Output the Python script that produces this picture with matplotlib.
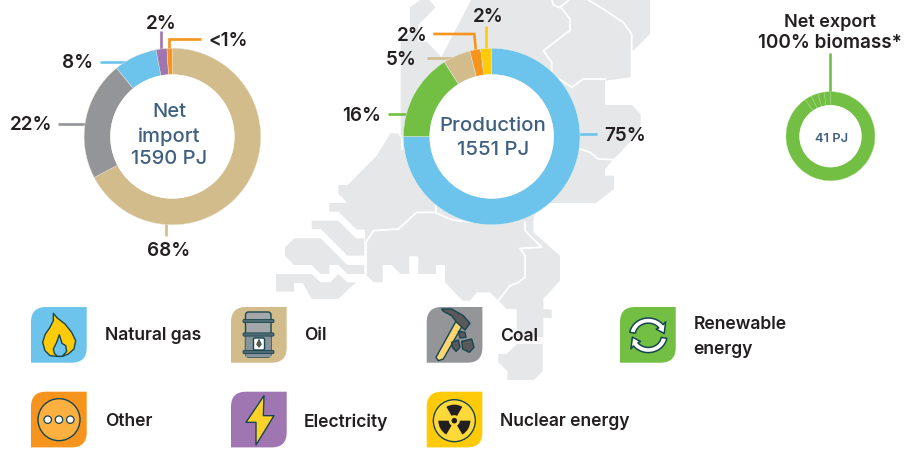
import matplotlib
matplotlib.use("Agg")
import matplotlib.pyplot as plt
import numpy as np
from matplotlib.patches import Circle, FancyBboxPatch, PathPatch, Polygon, Wedge
from matplotlib.path import Path

# values
import_labels = ['Oil', 'Coal', 'Natural gas', 'Electricity', 'Other']
import_values = [68, 22, 8, 2, 1]
prod_labels = ['Natural gas', 'Renewable', 'Oil', 'Other', 'Nuclear']
prod_values = [75, 16, 5, 2, 2]
export_values = [90.4, 2.5, 2.5, 2.3, 2.3]

GAS = '#6CC4EC'
OIL = '#D2BC8C'
COAL = '#939598'
REN = '#72BF44'
OTHER = '#F7941D'
ELEC = '#A076B2'
NUC = '#FFCB08'
MAP = '#E6E7E8'
DARK = '#231F20'
BLUE = '#3F5F80'
LINE = '#17454F'

plt.rcParams['font.family'] = ['Inter', 'DejaVu Sans']
W, H = 906, 452

fig = plt.figure(figsize=(9.06, 4.52), dpi=100)
ax = fig.add_axes([0, 0, 1, 1])
ax.set_xlim(0, W)
ax.set_ylim(H, 0)
ax.axis('off')


def crop(ox, oy, pts):
    return [(ox + x / 3, oy + y / 3) for x, y in pts]


def z2(pts):
    return crop(270, 0, pts)


def z3(pts):
    return crop(0, 295, pts)


def z4(pts):
    return crop(410, 295, pts)


def z7(pts):
    return crop(270, 130, pts)


def z9(pts):
    return crop(360, 220, pts)


# map of the Netherlands behind the charts
north = crop(380, 0, [(90, 25), (125, 0), (145, 0), (167, 25), (115, 78), (115, 128), (140, 128),
                      (195, 185), (130, 300), (70, 400), (62, 400), (62, 128), (90, 100)])
main = (z2([(605, 0), (1140, 0), (1140, 105), (1090, 155), (1082, 155), (1082, 235), (1005, 245),
            (1005, 318), (1085, 318), (1112, 345), (1112, 395), (1030, 482), (1005, 510),
            (1005, 530), (1032, 530), (1032, 570), (978, 612), (800, 612), (790, 665),
            (790, 700), (870, 770)])
        + z9([(600, 185), (550, 240), (550, 270), (575, 272), (575, 297), (550, 297), (550, 354),
              (470, 354), (470, 270), (440, 270), (415, 245), (390, 220), (350, 220), (330, 245),
              (308, 245), (255, 190), (255, 138), (228, 138), (228, 165), (175, 165), (175, 112),
              (148, 112), (148, 165), (122, 165), (95, 138), (68, 138), (68, 190), (42, 190),
              (15, 165)])
        + z7([(288, 435), (285, 302), (260, 302), (205, 248), (178, 248), (178, 222), (232, 222),
              (205, 195), (205, 168), (233, 168), (320, 80), (362, 12), (395, 12)]))
band1 = z7([(125, 275), (205, 275), (258, 328), (283, 328), (283, 380), (232, 380), (152, 300),
            (125, 300)])
band2 = z7([(72, 328), (152, 328), (232, 408), (283, 408), (283, 435), (232, 435), (205, 408),
            (178, 408), (178, 435), (152, 435), (125, 408), (72, 408), (45, 380), (45, 355)])
band3 = z7([(18, 435), (125, 435), (152, 460), (180, 460), (205, 435), (232, 460), (258, 460),
            (205, 510), (125, 510), (98, 462), (72, 462), (72, 488), (18, 488)])
limburg = z4([(265, 180), (290, 180), (320, 150), (398, 150), (398, 232), (372, 258), (292, 258),
              (292, 232), (265, 205)])
for part in [north, main, band1, band2, band3, limburg]:
    ax.add_patch(Polygon(part, closed=True, fc=MAP, ec='none', zorder=1))

borders = [
    z2([(845, 0), (850, 18), (875, 28), (900, 60), (900, 95), (885, 105), (860, 125), (820, 155),
        (845, 190), (845, 225)]),
    z2([(870, 25), (900, 0)]),
    z2([(950, 0), (1000, 30), (1060, 70), (1085, 105), (1085, 155)]),
    z2([(860, 235), (905, 265), (940, 240), (1005, 240)]),
    z2([(930, 450), (960, 460), (985, 480), (1030, 482)]),
    z7([(288, 435), (288, 340), (310, 305), (385, 300), (440, 250), (495, 250), (540, 270),
        (560, 275), (620, 280)]),
    z7([(497, 200), (497, 250)]),
    z9([(495, 10), (495, 35), (545, 85), (480, 88), (495, 110), (495, 175), (475, 190), (450, 200),
        (415, 245)]),
    z2([(365, 400), (385, 400), (395, 415), (397, 450)]),
]
for b in borders:
    xs, ys = zip(*b)
    ax.plot(xs, ys, color='white', lw=1.3, solid_joinstyle='round', zorder=2)


def donut(cx, cy, r, r_in, values, colors, edge):
    pad = 1.01
    a = fig.add_axes([(cx - r * pad) / W, 1 - (cy + r * pad) / H, 2 * r * pad / W, 2 * r * pad / H])
    a.pie(values, colors=colors, startangle=90, counterclock=False, radius=1,
          wedgeprops=dict(width=1 - r_in / r, edgecolor=edge, linewidth=0.3))
    a.add_patch(Circle((0, 0), r_in / r, fc='white', ec='none'))
    a.set_xlim(-pad, pad)
    a.set_ylim(-pad, pad)
    a.patch.set_alpha(0)
    return a


donut(172.4, 137.5, 88.3, 62, import_values, [OIL, COAL, GAS, ELEC, OTHER], '#EEE6D5')
donut(491.7, 137.5, 88.3, 62, prod_values, [GAS, REN, OIL, OTHER, NUC], '#E8F2EC')
donut(830.5, 137.2, 44.5, 31, export_values, [REN] * 5, '#A9D98E')


def leader(pts, color):
    xs, ys = zip(*pts)
    ax.plot(xs, ys, color=color, lw=1.9, solid_joinstyle='miter', solid_capstyle='butt', zorder=3)


leader([(161, 31.5), (161, 52)], ELEC)
leader([(201, 39.7), (169, 39.7), (169, 52)], OTHER)
leader([(100, 63.3), (128, 63.3)], GAS)
leader([(58, 125), (86, 125)], COAL)
leader([(166, 224), (166, 237)], OIL)
leader([(485.7, 26.7), (485.7, 52)], NUC)
leader([(433.3, 35), (474.3, 35), (476, 53)], OTHER)
leader([(426.7, 59.3), (455, 59.3)], OIL)
leader([(388.3, 115), (408, 115)], REN)
leader([(578, 135), (596.7, 135)], GAS)
leader([(830.3, 54.3), (830.3, 95)], REN)


def label(x, y, s, size=13.6, color=DARK, ha='center', weight='semibold'):
    # va center sits a bit high for this font
    fig.text(x / W, 1 - (y + 1.5) / H, s, fontsize=size, color=color, ha=ha, va='center',
             weight=weight, zorder=10)


label(161, 22.5, '2%')
label(228, 39.5, '<1%')
label(78, 62, '8%')
label(31, 123.5, '22%')
label(169, 250, '68%')
label(488.3, 16, '2%')
label(412.3, 34.3, '2%')
label(400.7, 58.3, '5%')
label(361.7, 114.3, '16%')
label(625, 134.3, '75%')
label(830, 20.7, 'Net export', size=13)
label(830, 41.7, '100% biomass*', size=13.6)

label(169, 110.7, 'Net', size=14.5, color=BLUE, weight='medium')
label(169, 135, 'import', size=14.5, color=BLUE, weight='medium')
label(169, 158, '1590 PJ', size=14.5, color=BLUE, weight='medium')
label(493.3, 124.3, 'Production', size=14.7, color=BLUE, weight='medium')
label(493.3, 148.3, '1551 PJ', size=14.7, color=BLUE, weight='medium')
label(831.7, 137.3, '41 PJ', size=9.3, color=BLUE)

label(105, 334, 'Natural gas', ha='left', size=12.6)
label(304, 334, 'Oil', ha='left', size=12.6)
label(500, 335, 'Coal', ha='left', size=12.6)
label(693.5, 323.3, 'Renewable', ha='left', size=12.6)
label(693.5, 347.7, 'energy', ha='left', size=12.6)
label(105, 420, 'Other', ha='left', size=12.6)
label(304, 421, 'Electricity', ha='left', size=12.6)
label(500, 420, 'Nuclear energy', ha='left', size=12.6)


def tile(x, y, color, s=55.7, c=15):
    # top left and bottom right corners are round
    verts = [(x + c, y), (x + s, y), (x + s, y + s - c), (x + s, y + s), (x + s - c, y + s),
             (x, y + s), (x, y + c), (x, y), (x + c, y)]
    codes = [Path.MOVETO, Path.LINETO, Path.LINETO, Path.CURVE3, Path.CURVE3,
             Path.LINETO, Path.LINETO, Path.CURVE3, Path.CURVE3]
    ax.add_patch(PathPatch(Path(verts, codes), fc=color, ec='none', zorder=4))


def shape(pts, color, lw=1.0):
    ax.add_patch(Polygon(pts, closed=True, fc=color, ec=LINE, lw=lw, joinstyle='round', zorder=5))


tile(31, 308, GAS)
tile(231, 308, OIL)
tile(426.7, 308, COAL)
tile(620, 308, REN)
tile(31, 392.7, OTHER)
tile(231, 392.7, ELEC)
tile(426.7, 392.7, NUC)

# flame
shape(z3([(160, 58), (172, 72), (195, 90), (215, 115), (227, 140), (222, 165), (205, 180),
          (187, 187), (172, 187), (150, 185), (135, 170), (128, 145), (135, 122), (150, 100),
          (160, 80)]), '#FFCB08')
shape(z3([(178, 122), (186, 148), (197, 155), (200, 172), (187, 187), (172, 187), (163, 178),
          (160, 165), (170, 145)]), GAS)


# barrel
def bar(x0, y0, x1, y1, color, rad=1.2, lw=1.0, z=5):
    ax.add_patch(FancyBboxPatch((x0 + rad, y0 + rad), x1 - x0 - 2 * rad, y1 - y0 - 2 * rad,
                                boxstyle=f'round,pad={rad}', fc=color, ec=LINE, lw=lw, zorder=z))


bar(245.5, 313, 271, 358, '#A4A8AA', rad=3)
bar(245.5, 335, 271, 358, '#84949A', rad=0.2, lw=0)
for by in [322, 335.5, 353]:
    bar(243, by - 1.6, 274, by + 1.6, '#4F6B74', rad=1.2, lw=0.6, z=6)
bar(253.5, 339, 264.5, 351, 'white', rad=1.5, z=6)
ax.add_patch(Polygon(crop(226, 303, [(99, 112), (106, 127), (99, 136), (92, 127)]), closed=True,
                     fc='#6B5A3C', ec=LINE, lw=0.5, zorder=7))

# hammer and coal
shape(z4([(140, 78), (160, 90), (100, 195), (85, 200), (78, 190)]), '#FBD56F')
shape(z4([(95, 45), (125, 45), (160, 65), (180, 88), (165, 108), (140, 85), (125, 65), (100, 52)]),
      '#59595C')
shape(z4([(145, 112), (165, 115), (168, 130), (150, 132)]), '#59595C')
shape(z4([(125, 145), (145, 138), (150, 160), (138, 172), (127, 160)]), '#59595C')
shape(z4([(155, 142), (185, 135), (192, 160), (178, 175), (158, 165)]), '#59595C')


# recycle arrows
def arc_arrow(cx, cy, r, t0, t1, head):
    t = np.radians(np.linspace(t0, t1, 24))
    outer = [(cx + (r + 2.8) * np.cos(a), cy + (r + 2.8) * 0.92 * np.sin(a)) for a in t]
    inner = [(cx + (r - 2.8) * np.cos(a), cy + (r - 2.8) * 0.92 * np.sin(a)) for a in t[::-1]]
    e = t[-1]
    tip = (cx + (r + head) * np.cos(e), cy + (r + head) * np.sin(e))
    tip2 = (cx + (r - head) * np.cos(e), cy + (r - head) * np.sin(e))
    nose = (cx + r * np.cos(e + 0.55), cy + r * np.sin(e + 0.55))
    shape(outer + [tip, nose, tip2] + inner, 'white', lw=1.1)


rc = (648.3, 336.3)
arc_arrow(rc[0], rc[1], 16, 190, 322, 6)
arc_arrow(rc[0], rc[1], 16, 10, 142, 6)

# three dots
oc = z3([(177, 377)])[0]
ax.add_patch(Circle(oc, 21, fc='#FBB040', ec=LINE, lw=1, zorder=5))
for dx in [-11.3, 0, 11.3]:
    ax.add_patch(Circle((oc[0] + dx, oc[1]), 3.7, fc='white', ec=LINE, lw=0.9, zorder=6))

# lightning
shape(z3([(792, 305), (738, 385), (768, 385), (768, 453), (822, 365), (790, 365)]), '#FFD22A')

# radiation sign
nc = z4([(133, 380)])[0]
ax.add_patch(Circle(nc, 21, fc='#FFD83A', ec=LINE, lw=1, zorder=5))
for a0 in [-120, 0, 120]:
    ax.add_patch(Wedge(nc, 16, a0, a0 + 60, width=10.5, fc=DARK, ec='none', zorder=6))
ax.add_patch(Circle(nc, 2.8, fc=DARK, ec='none', zorder=6))

fig.savefig('out.png', dpi=100)
